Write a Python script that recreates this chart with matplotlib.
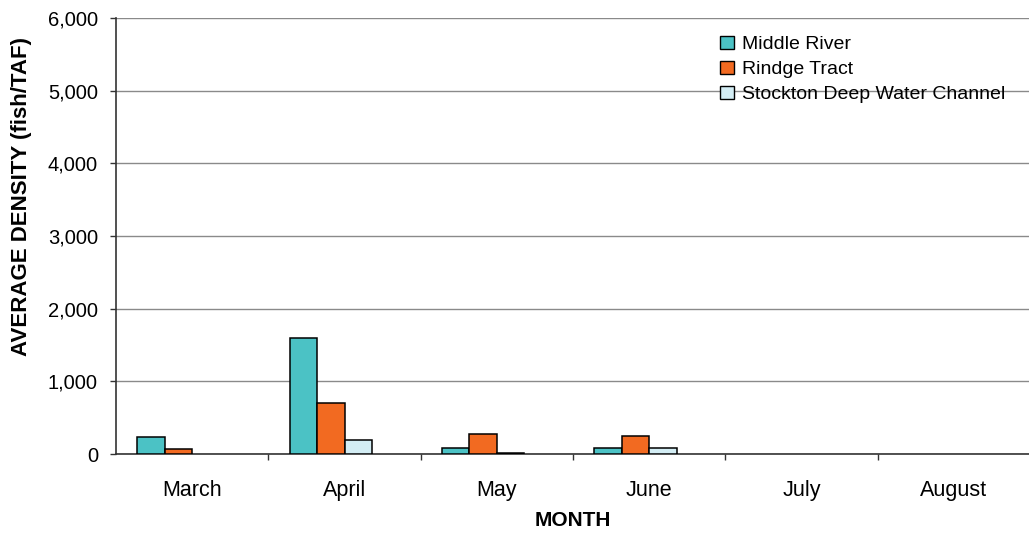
import matplotlib
matplotlib.use("Agg")
import matplotlib.pyplot as plt
import numpy as np
from matplotlib.ticker import FuncFormatter, FixedLocator

months = ["March", "April", "May", "June", "July", "August"]
series_names = ["Middle River", "Rindge Tract", "Stockton Deep Water Channel"]
middle_river = [234, 1590, 84, 84, 0, 0]
rindge_tract = [62, 695, 276, 252, 0, 0]
stockton_dwc = [0, 195, 20, 80, 0, 0]
colors = ["#4BC2C5", "#F26A21", "#D3EDF4"]

plt.rcParams['font.family'] = ['Liberation Sans', 'DejaVu Sans']

fig = plt.figure(figsize=(10.29, 5.35), dpi=100)
ax = fig.add_axes([116/1029, 81/535, 914/1029, 436/535])

x = np.arange(len(months))
nslots = 4
bw = 0.18
values = [middle_river, rindge_tract, stockton_dwc]
for i, (vals, name, c) in enumerate(zip(values, series_names, colors)):
    offs = (i - (nslots - 1) / 2) * bw
    vals = np.asarray(vals, dtype=float)
    lw = np.where(vals > 0, 1.1, 0.0)
    ax.bar(x + offs, vals, width=bw, color=c, edgecolor="black", linewidth=lw,
           label=name, zorder=3)

ax.set_xlim(-0.5, len(months) - 0.5)
ax.set_ylim(0, 6000)
ax.set_yticks(np.arange(0, 6001, 1000))
ax.yaxis.set_major_formatter(FuncFormatter(lambda v, p: f"{int(v):,}"))
ax.grid(axis='y', color="#8a8a8a", linewidth=1.0, zorder=0)
ax.set_axisbelow(True)

ax.set_xticks(x)
ax.set_xticklabels(months, fontsize=15.5)
ax.xaxis.set_minor_locator(FixedLocator(np.arange(0.5, len(months) - 0.5, 1)))
ax.tick_params(axis='x', which='major', length=0, pad=19)
ax.tick_params(axis='x', which='minor', length=4, width=1, color="#333333")
ax.tick_params(axis='y', length=4, width=1, color="#333333", labelsize=14.5, pad=9)

for s in ["top", "right"]:
    ax.spines[s].set_visible(False)
for s in ["left", "bottom"]:
    ax.spines[s].set_color("#333333")
    ax.spines[s].set_linewidth(1.2)

ax.set_ylabel("AVERAGE DENSITY (fish/TAF)", fontsize=16, fontweight="bold")
ax.yaxis.set_label_coords(-0.092, 0.59)
ax.set_xlabel("MONTH", fontsize=15, fontweight="bold", labelpad=7)

leg = fig.legend(loc="upper left", bbox_to_anchor=(0.700, 0.933), frameon=False,
                 fontsize=14, handlelength=0.7, handleheight=0.7,
                 handletextpad=0.4, labelspacing=0.38, borderpad=0, borderaxespad=0)
for h in leg.legend_handles:
    h.set_linewidth(1.0)
    h.set_edgecolor("black")

fig.savefig("out.png", dpi=100)
